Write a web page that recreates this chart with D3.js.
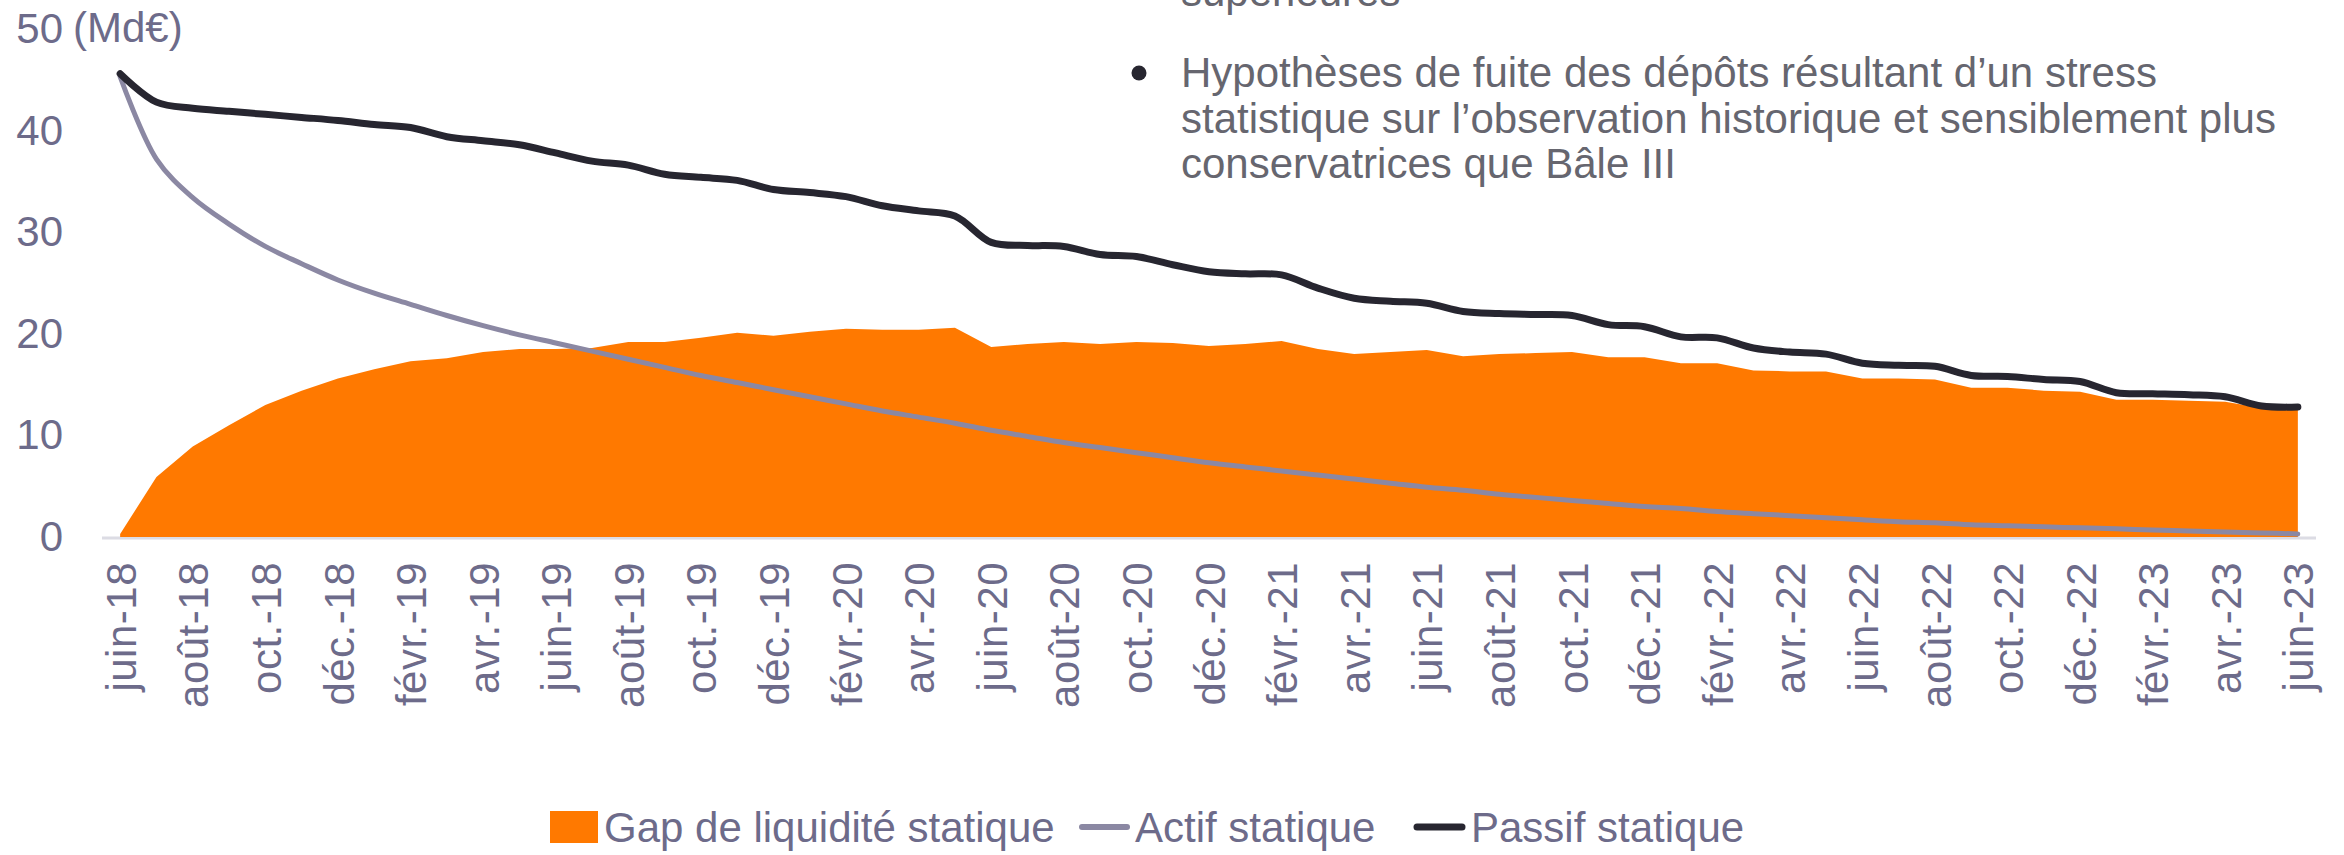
<!DOCTYPE html>
<html>
<head>
<meta charset="utf-8">
<script src="https://cdn.jsdelivr.net/npm/d3@7"></script>
<style>
  body { margin: 0; background: #fff; }
  svg { display: block; font-family: "Liberation Sans", Arial, sans-serif; }
</style>
</head>
<body>
<div class="chart"></div>
<script>
// categories (monthly, juin-18 .. juin-23)
const MONTHS = [
  "juin-18","juil.-18","août-18","sept.-18","oct.-18","nov.-18","déc.-18",
  "janv.-19","févr.-19","mars-19","avr.-19","mai-19","juin-19","juil.-19","août-19","sept.-19","oct.-19","nov.-19","déc.-19",
  "janv.-20","févr.-20","mars-20","avr.-20","mai-20","juin-20","juil.-20","août-20","sept.-20","oct.-20","nov.-20","déc.-20",
  "janv.-21","févr.-21","mars-21","avr.-21","mai-21","juin-21","juil.-21","août-21","sept.-21","oct.-21","nov.-21","déc.-21",
  "janv.-22","févr.-22","mars-22","avr.-22","mai-22","juin-22","juil.-22","août-22","sept.-22","oct.-22","nov.-22","déc.-22",
  "janv.-23","févr.-23","mars-23","avr.-23","mai-23","juin-23"
];

// Gap de liquidité statique (Md€)
const GAP = [
  0.3, 5.9, 8.9, 11.0, 13.0, 14.4, 15.6, 16.5, 17.3, 17.6,
  18.2, 18.5, 18.5, 18.6, 19.2, 19.2, 19.6, 20.1, 19.8, 20.2,
  20.5, 20.4, 20.4, 20.6, 18.7, 19.0, 19.2, 19.0, 19.2, 19.1,
  18.8, 19.0, 19.3, 18.5, 18.0, 18.2, 18.4, 17.8, 18.0, 18.1,
  18.2, 17.7, 17.7, 17.1, 17.1, 16.4, 16.3, 16.3, 15.6, 15.6,
  15.5, 14.7, 14.7, 14.4, 14.3, 13.5, 13.5, 13.4, 13.3, 12.7,
  12.5
];

// Actif statique (Md€)
const ACTIF = [
  45.3, 37.2, 33.4, 30.8, 28.6, 26.9, 25.3, 24.0, 22.9, 21.8,
  20.8, 19.9, 19.1, 18.3, 17.5, 16.7, 15.9, 15.2, 14.5, 13.8,
  13.1, 12.4, 11.8, 11.2, 10.5, 9.9, 9.3, 8.8, 8.3, 7.8,
  7.3, 6.9, 6.5, 6.1, 5.7, 5.3, 4.9, 4.6, 4.2, 3.9,
  3.6, 3.3, 3.0, 2.8, 2.5, 2.3, 2.1, 1.9, 1.7, 1.5,
  1.4, 1.2, 1.1, 1.0, 0.9, 0.8, 0.7, 0.6, 0.5, 0.4,
  0.3
];

// Passif statique (Md€)
const PASSIF = [
  45.6, 42.8, 42.2, 41.9, 41.6, 41.3, 41.0, 40.6, 40.3, 39.4,
  39.0, 38.6, 37.8, 37.0, 36.6, 35.7, 35.4, 35.1, 34.2, 33.9,
  33.5, 32.6, 32.1, 31.6, 29.0, 28.7, 28.6, 27.8, 27.6, 26.8,
  26.1, 25.9, 25.8, 24.5, 23.5, 23.2, 23.0, 22.2, 22.0, 21.9,
  21.8, 20.9, 20.7, 19.7, 19.6, 18.6, 18.2, 18.0, 17.1, 16.9,
  16.8, 15.9, 15.8, 15.5, 15.3, 14.2, 14.1, 14.0, 13.8, 12.9,
  12.8
];

const Y_TICKS = [0, 10, 20, 30, 40, 50];
const X_TICKS = MONTHS.filter((d, i) => i % 2 === 0);

const NOTE_PREV = "supérieures";
const NOTE_LINES = [
  "Hypothèses de fuite des dépôts résultant d’un stress",
  "statistique sur l’observation historique et sensiblement plus",
  "conservatrices que Bâle III"
];

const LEGEND = ["Gap de liquidité statique", "Actif statique", "Passif statique"];

const ORANGE = "#ff7900";
const ACTIF_COLOR = "#8b88a3";
const PASSIF_COLOR = "#272630";
const LABEL_COLOR = "#6d6b8a";
const NOTE_COLOR = "#66666f";

const W = 2344, H = 855;

const svg = d3.select(".chart").append("svg")
  .attr("width", W)
  .attr("height", H);

const x = d3.scalePoint().domain(MONTHS).range([102, 2316]).padding(0.5);
const y = d3.scaleLinear().domain([0, 50]).range([537, 29]);

const rows = MONTHS.map((m, i) => ({ m, gap: GAP[i], actif: ACTIF[i], passif: PASSIF[i] }));

// baseline
svg.append("line")
  .attr("x1", 102).attr("x2", 2316)
  .attr("y1", y(0) + 1).attr("y2", y(0) + 1)
  .attr("stroke", "#dcdce4")
  .attr("stroke-width", 3);

// orange area
svg.append("path")
  .datum(rows)
  .attr("fill", ORANGE)
  .attr("d", d3.area()
    .x(d => x(d.m))
    .y0(y(0))
    .y1(d => y(d.gap)));

// lines (smoothed like the original)
const line = key => d3.line()
  .x(d => x(d.m))
  .y(d => y(d[key]))
  .curve(d3.curveCatmullRom);

svg.append("path")
  .datum(rows)
  .attr("fill", "none")
  .attr("stroke", ACTIF_COLOR)
  .attr("stroke-width", 5)
  .attr("stroke-linecap", "round")
  .attr("d", line("actif"));

svg.append("path")
  .datum(rows)
  .attr("fill", "none")
  .attr("stroke", PASSIF_COLOR)
  .attr("stroke-width", 7)
  .attr("stroke-linecap", "round")
  .attr("stroke-linejoin", "round")
  .attr("d", line("passif"));

// y axis
const yAxis = svg.append("g")
  .attr("transform", "translate(63,0)")
  .call(d3.axisLeft(y).tickValues(Y_TICKS).tickSize(0).tickPadding(0));
yAxis.select(".domain").remove();
yAxis.selectAll("text")
  .attr("fill", LABEL_COLOR)
  .style("font-size", "42px")
  .style("font-family", "'Liberation Sans', Arial, sans-serif");

svg.append("text")
  .attr("x", 73)
  .attr("y", y(50))
  .attr("dy", "0.32em")
  .attr("fill", LABEL_COLOR)
  .style("font-size", "42px")
  .text("(Md€)");

// x axis, rotated labels
const xAxis = svg.append("g")
  .attr("transform", `translate(0,${y(0)})`)
  .call(d3.axisBottom(x).tickValues(X_TICKS).tickSize(0));
xAxis.select(".domain").remove();
xAxis.selectAll("text")
  .attr("transform", "rotate(-90)")
  .attr("x", -25)
  .attr("y", 0)
  .attr("dy", "0.36em")
  .attr("fill", LABEL_COLOR)
  .style("text-anchor", "end")
  .style("font-size", "42px")
  .style("letter-spacing", "0.5px")
  .style("font-family", "'Liberation Sans', Arial, sans-serif");

// annotation at top right
const note = svg.append("g").attr("fill", NOTE_COLOR).style("font-size", "42px");
note.append("text").attr("x", 1181).attr("y", 6).text(NOTE_PREV);
note.selectAll("text.l")
  .data(NOTE_LINES)
  .join("text")
  .attr("class", "l")
  .attr("x", 1181)
  .attr("y", (d, i) => 87 + i * 45.5)
  .text(d => d);
svg.append("circle")
  .attr("cx", 1139).attr("cy", 73).attr("r", 7.5)
  .attr("fill", PASSIF_COLOR);

// legend
const leg = svg.append("g").style("font-size", "42px").attr("fill", LABEL_COLOR);
const LY = 827;
leg.append("rect").attr("x", 550).attr("y", LY - 16).attr("width", 48).attr("height", 32).attr("fill", ORANGE);
leg.append("text").attr("x", 604).attr("y", LY).attr("dy", "0.35em").text(LEGEND[0]);
leg.append("line").attr("x1", 1082).attr("x2", 1127).attr("y1", LY).attr("y2", LY)
  .attr("stroke", ACTIF_COLOR).attr("stroke-width", 6).attr("stroke-linecap", "round");
leg.append("text").attr("x", 1135).attr("y", LY).attr("dy", "0.35em").text(LEGEND[1]);
leg.append("line").attr("x1", 1417).attr("x2", 1462).attr("y1", LY).attr("y2", LY)
  .attr("stroke", PASSIF_COLOR).attr("stroke-width", 7).attr("stroke-linecap", "round");
leg.append("text").attr("x", 1471).attr("y", LY).attr("dy", "0.35em").text(LEGEND[2]);
</script>
</body>
</html>
